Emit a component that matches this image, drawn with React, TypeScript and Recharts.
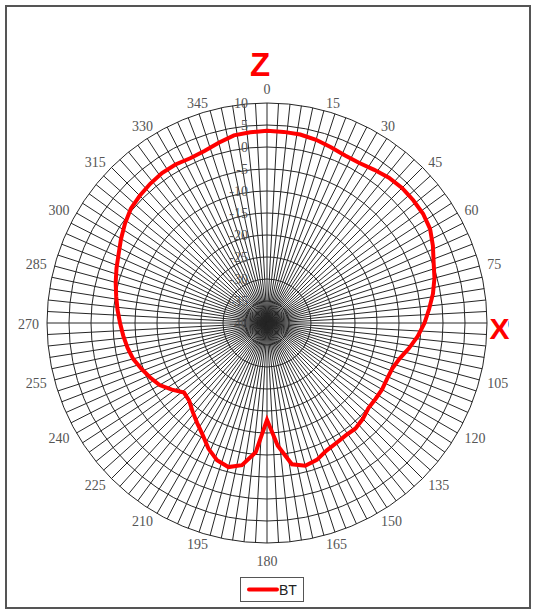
import React from "react";
import {
  RadarChart,
  Radar,
  PolarGrid,
  PolarAngleAxis,
  PolarRadiusAxis,
  Legend,
} from "recharts";

// measured angle (deg, clockwise from Z) and BT gain (dB)
const angles = [
  0, 5, 10, 15, 20, 25, 30, 35, 40, 45, 50, 55, 60, 65, 70, 75, 80, 85,
  90, 95, 100, 105, 110, 115, 120, 125, 130, 135, 140, 145, 150, 155, 160, 165, 170, 175,
  180, 185, 190, 195, 200, 205, 210, 215, 220, 225, 230, 235, 240, 245, 250, 255, 260, 265,
  270, 275, 280, 285, 290, 295, 300, 305, 310, 315, 320, 325, 330, 335, 340, 345, 350, 355,
];

const btGain = [
  3.7, 3.6, 3.5, 3.1, 2.5, 2.0, 2.0, 2.5, 3.1, 3.4, 3.4, 3.3, 2.8, 1.6, 0.3, -0.6, -1.7, -3.0,
  -4.2, -5.6, -7.2, -8.8, -9.7, -9.9, -9.8, -9.9, -9.9, -9.2, -8.7, -8.8, -8.5, -8.0, -6.9, -6.4, -7.4, -12.0,
  -18.0, -10.5, -7.2, -6.1, -6.8, -8.5, -10.7, -12.3, -13.7, -15.0, -15.4, -13.6, -11.8, -10.7, -9.6, -8.5, -7.8, -7.2,
  -6.6, -5.9, -5.2, -4.4, -3.6, -2.8, -1.7, -0.6, 0.4, 0.9, 1.3, 1.6, 1.6, 1.3, 1.6, 2.4, 3.3, 3.5,
];

const radiusTicks = [-40, -35, -30, -25, -20, -15, -10, -5, 0, 5, 10];

// grid spokes every 3 degrees
const gridAngles = Array.from({ length: 120 }, (_, i) => i * 3);

const CX = 267;
const CY = 323;
const R = 220;

const data = angles.map((a, i) => ({ angle: a, bt: btGain[i] }));

function AngleTick(props: any) {
  const a = Number(props.payload?.value);
  if (a % 15 !== 0) return <g />;
  const rad = (a * Math.PI) / 180;
  const s = Math.sin(rad);
  const c = Math.cos(rad);
  const r = R + 8;
  const x = CX + r * s;
  const y = CY - r * c;
  let anchor = "middle";
  if (s > 0.05) anchor = "start";
  else if (s < -0.05) anchor = "end";
  let dy = 1;
  if (Math.abs(s) <= 0.05) dy = c > 0 ? -6 : 10;
  return (
    <text
      x={x}
      y={y + dy}
      textAnchor={anchor}
      dominantBaseline="central"
      fontFamily="'Liberation Serif', serif"
      fontSize={14}
      fill="#555"
    >
      {a}
    </text>
  );
}

function RadiusTick(props: any) {
  const { x, y, payload } = props;
  return (
    <text
      x={x - 19}
      y={y}
      textAnchor="end"
      dominantBaseline="central"
      fontFamily="'Liberation Serif', serif"
      fontSize={14}
      fill="#555"
    >
      {payload.value}
    </text>
  );
}

function LegendBox() {
  return (
    <svg width={65} height={26}>
      <rect x={0.5} y={0.5} width={63} height={24} fill="#fff" stroke="#555" strokeWidth={1} />
      <line x1={9} y1={12.5} x2={37} y2={12.5} stroke="#f00" strokeWidth={4} strokeLinecap="round" />
      <text x={39} y={17.5} fontFamily="'Liberation Sans', Arial, sans-serif" fontSize={14} fill="#222">
        BT
      </text>
    </svg>
  );
}

export default function App() {
  return (
    <div style={{ position: "relative", width: 535, height: 611, background: "#fff" }}>
      <style>{`body { margin: 0; }`}</style>
      <RadarChart
        width={535}
        height={611}
        data={data}
        cx={CX}
        cy={CY}
        outerRadius={R}
        margin={{ top: 0, right: 0, bottom: 0, left: 0 }}
      >
        <PolarGrid
          gridType="circle"
          polarAngles={gridAngles}
          stroke="#262626"
          strokeWidth={1}
        />
        <PolarAngleAxis dataKey="angle" tick={<AngleTick />} tickLine={false} axisLine={false} />
        <PolarRadiusAxis
          type="number"
          angle={90}
          domain={[-40, 10]}
          ticks={radiusTicks}
          tick={<RadiusTick />}
          axisLine={false}
          tickLine={false}
        />
        <Radar
          name="BT"
          dataKey="bt"
          stroke="#ff0000"
          strokeWidth={4}
          fill="none"
          fillOpacity={0}
          dot={false}
          isAnimationActive={false}
        />
        <Legend
          content={() => <LegendBox />}
          wrapperStyle={{ left: 240, top: 577, bottom: "auto", width: 65, height: 26 }}
        />
      </RadarChart>
      <svg
        width={535}
        height={611}
        style={{ position: "absolute", left: 0, top: 0, zIndex: 5, pointerEvents: "none" }}
      >
        <rect x={6} y={6} width={524} height={602} fill="none" stroke="#555" strokeWidth={2} />
        <text
          x={260}
          y={76}
          textAnchor="middle"
          fontFamily="'Liberation Sans', Arial, sans-serif"
          fontWeight="bold"
          fontSize={33}
          fill="#ff0000"
        >
          Z
        </text>
        <rect x={489} y={314} width={19} height={26} fill="#fff" />
        <text
          x={499.5}
          y={339}
          textAnchor="middle"
          fontFamily="'Liberation Sans', Arial, sans-serif"
          fontWeight="bold"
          fontSize={30}
          fill="#ff0000"
        >
          X
        </text>
      </svg>
    </div>
  );
}
